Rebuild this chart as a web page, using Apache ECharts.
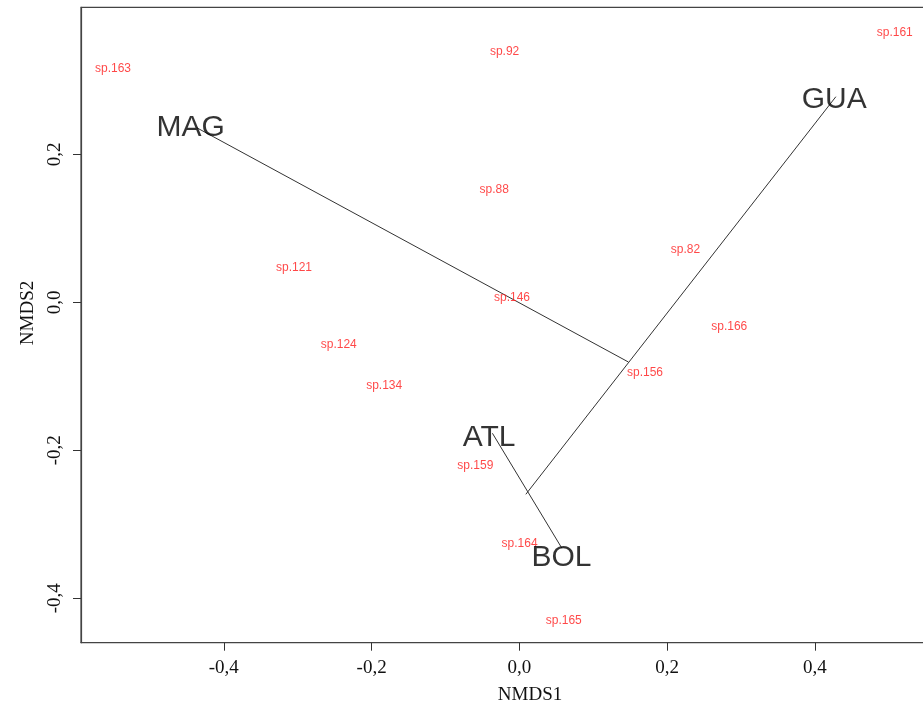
<!DOCTYPE html>
<html>
<head>
<meta charset="utf-8">
<script src="https://cdn.jsdelivr.net/npm/echarts@6/dist/echarts.min.js"></script>
<style>
html,body{margin:0;padding:0;background:#fff;}
#chart{width:923px;height:707px;}
</style>
</head>
<body>
<div id="chart"></div>
<script>
// Species scores (label centres)
const speciesNames = ['sp.163','sp.92','sp.88','sp.146','sp.121','sp.124','sp.134','sp.82','sp.166','sp.156','sp.161','sp.159','sp.164','sp.165'];
const speciesX = [-0.550,-0.020,-0.034,-0.010,-0.305,-0.2445,-0.183,0.2247,0.284,0.170,0.508,-0.0596,0.0003,0.060];
const speciesY = [0.317,0.340,0.154,0.008,0.048,-0.0564,-0.111,0.0724,-0.031,-0.094,0.365,-0.2195,-0.325,-0.4286];

// Site labels
const siteNames = ['MAG','GUA','ATL','BOL'];
const siteX = [-0.445,0.426,-0.041,0.057];
const siteY = [0.2385,0.2764,-0.181,-0.3426];

// Cluster segments [x1,y1,x2,y2]
const segMAG = [-0.4367,0.2359,0.1475,-0.0807];
const segGUA = [0.4283,0.2778,0.0087,-0.2595];
const segATLBOL = [-0.0365,-0.1770,0.0573,-0.3320];

const xTicks = [-0.4,-0.2,0,0.2,0.4];
const yTicks = [-0.4,-0.2,0,0.2];

const fmt = v => (Math.abs(v) < 1e-9 ? 0 : v).toFixed(1).replace('.', ',');

const chart = echarts.init(document.getElementById('chart'), null, {renderer:'canvas'});

function seg(s){
  return {
    type:'line', data:[[s[0],s[1]],[s[2],s[3]]], showSymbol:false, silent:true,
    lineStyle:{color:'#333', width:1}, z:2, animation:false
  };
}

const option = {
  backgroundColor:'#fff',
  animation:false,
  grid:{left:81, top:7.3, width:898, height:635.4, show:true, borderColor:'#444', borderWidth:1.2, outerBoundsMode:'none'},
  xAxis:{
    type:'value', min:-0.5933, max:0.622,
    name:'NMDS1', nameLocation:'middle', nameGap:43,
    nameTextStyle:{fontFamily:'Liberation Serif', fontSize:19, color:'#111'},
    axisLine:{show:true, onZero:false, lineStyle:{color:'#444', width:1.2}},
    axisTick:{show:true, length:8, inside:false, customValues:xTicks, lineStyle:{color:'#333'}},
    axisLabel:{customValues:xTicks, formatter:fmt, margin:16, fontFamily:'Liberation Serif', fontSize:19, color:'#111'},
    splitLine:{show:false}
  },
  yAxis:{
    type:'value', min:-0.46, max:0.3986,
    axisLine:{show:true, onZero:false, lineStyle:{color:'#444', width:1.2}},
    axisTick:{show:true, length:8, inside:false, customValues:yTicks, lineStyle:{color:'#333'}},
    axisLabel:{customValues:yTicks, formatter:fmt, rotate:90, margin:16, fontFamily:'Liberation Serif', fontSize:19, color:'#111'},
    splitLine:{show:false}
  },
  graphic:[{
    type:'text', x:28, y:313, rotation:Math.PI/2,
    style:{text:'NMDS2', fontFamily:'Liberation Serif', fontSize:19, fill:'#111', textAlign:'center', textVerticalAlign:'middle'}
  }],
  series:[
    seg(segMAG), seg(segGUA), seg(segATLBOL),
    {
      type:'scatter', symbolSize:1, itemStyle:{color:'rgba(0,0,0,0)'}, z:3,
      data: speciesNames.map((n,i)=>({name:n, value:[speciesX[i], speciesY[i]]})),
      label:{show:true, position:'inside', offset:[0,1], formatter:p=>p.name, fontFamily:'Liberation Sans', fontSize:12, color:'#ff1a1a'}
    },
    {
      type:'scatter', symbolSize:1, itemStyle:{color:'rgba(0,0,0,0)'}, z:4,
      data: siteNames.map((n,i)=>({name:n, value:[siteX[i], siteY[i]]})),
      label:{show:true, position:'inside', offset:[0,2], formatter:p=>p.name, fontFamily:'Liberation Sans', fontSize:30, color:'#000'}
    }
  ]
};
chart.setOption(option);
</script>
</body>
</html>
